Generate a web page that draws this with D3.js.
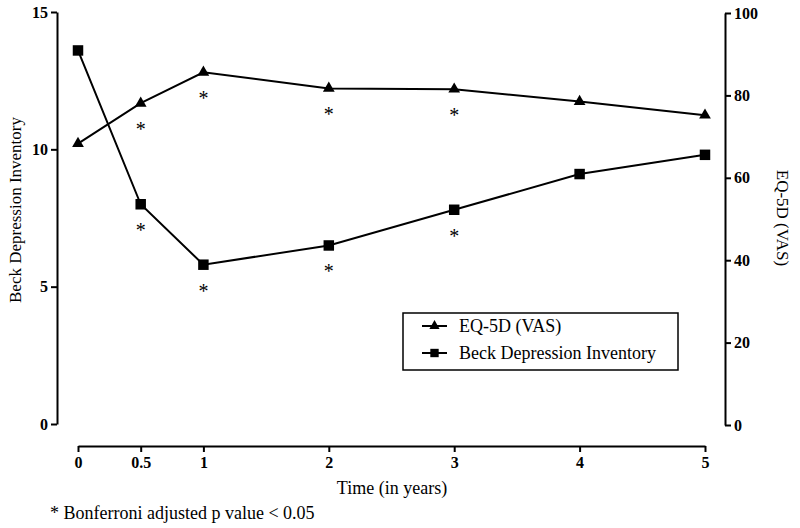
<!DOCTYPE html>
<html><head><meta charset="utf-8">
<script src="https://cdn.jsdelivr.net/npm/d3@7"></script>
<style>body{margin:0;background:#fff}svg{display:block}svg text{font-family:"Liberation Serif","Times New Roman",Times,serif}</style>
</head><body>
<svg id="c" width="800" height="528"></svg>
<script>
const times = [0, 0.5, 1, 2, 3, 4, 5];
const timeLabels = ["0", "0.5", "1", "2", "3", "4", "5"];
const beck = [13.6, 8.0, 5.8, 6.5, 7.8, 9.1, 9.8];
const eq5d = [68.3, 78.1, 85.6, 81.7, 81.5, 78.5, 75.2];
const beckSig = [false, true, true, true, true, false, false];
const eqSig = [false, true, true, true, true, false, false];
const leftTicks = [0, 5, 10, 15];
const rightTicks = [0, 20, 40, 60, 80, 100];

const svg = d3.select("#c");
const x = d3.scaleLinear().domain([0, 5]).range([78, 705]);
const yL = d3.scaleLinear().domain([0, 15]).range([424, 12]);
const yR = d3.scaleLinear().domain([0, 100]).range([425, 13]);

function styleAxis(g) {
  g.attr("font-family", null).attr("font-size", null);
  g.select(".domain").attr("stroke", "#000").attr("stroke-width", 2);
  g.selectAll(".tick line").attr("stroke", "#000").attr("stroke-width", 2);
  g.selectAll(".tick text").style("font-weight", "bold")
    .style("font-size", "16px").attr("fill", "#000");
}
svg.append("g").attr("transform", "translate(57,0)")
  .call(d3.axisLeft(yL).tickValues(leftTicks).tickSize(6).tickSizeOuter(0).tickPadding(3))
  .call(styleAxis);
svg.append("g").attr("transform", "translate(725,0)")
  .call(d3.axisRight(yR).tickValues(rightTicks).tickSize(6).tickSizeOuter(0).tickPadding(3))
  .call(styleAxis);
svg.append("g").attr("transform", "translate(0,446)")
  .call(d3.axisBottom(x).tickValues(times).tickFormat((d, i) => timeLabels[i]).tickSize(6).tickSizeOuter(0).tickPadding(5))
  .call(styleAxis);

const eqData = times.map((t, i) => ({t, v: eq5d[i], s: eqSig[i]}));
const bkData = times.map((t, i) => ({t, v: beck[i], s: beckSig[i]}));

const lineEq = d3.line().x(d => x(d.t)).y(d => yR(d.v));
const lineBk = d3.line().x(d => x(d.t)).y(d => yL(d.v));
svg.append("path").datum(eqData).attr("d", lineEq).attr("fill", "none").attr("stroke", "#000").attr("stroke-width", 2);
svg.append("path").datum(bkData).attr("d", lineBk).attr("fill", "none").attr("stroke", "#000").attr("stroke-width", 2);

const tri = d3.symbol().type(d3.symbolTriangle).size(60);
const sq = d3.symbol().type(d3.symbolSquare).size(110);
svg.selectAll(".tri").data(eqData).enter().append("path")
  .attr("d", tri).attr("transform", d => `translate(${x(d.t)},${yR(d.v)})`).attr("fill", "#000");
svg.selectAll(".sq").data(bkData).enter().append("path")
  .attr("d", sq).attr("transform", d => `translate(${x(d.t)},${yL(d.v)})`).attr("fill", "#000");

svg.selectAll(".eqs").data(eqData.filter(d => d.s)).enter().append("text")
  .attr("x", d => x(d.t)).attr("y", d => yR(d.v) + 33).attr("text-anchor", "middle")
  .style("font-size", "20px").text("*");
svg.selectAll(".bks").data(bkData.filter(d => d.s)).enter().append("text")
  .attr("x", d => x(d.t)).attr("y", d => yL(d.v) + 33).attr("text-anchor", "middle")
  .style("font-size", "20px").text("*");

// Axis titles
svg.append("text").attr("transform", "translate(21,210) rotate(-90)").attr("text-anchor", "middle")
  .style("font-size", "17px").text("Beck  Depression Inventory");
svg.append("text").attr("transform", "translate(777,218) rotate(90)").attr("text-anchor", "middle")
  .style("font-size", "17px").text("EQ-5D (VAS)");
svg.append("text").attr("x", 392).attr("y", 494).attr("text-anchor", "middle")
  .style("font-size", "18px").text("Time (in years)");
svg.append("text").attr("x", 50).attr("y", 519)
  .style("font-size", "18px").text("* Bonferroni adjusted p value < 0.05");

// Legend
const lg = svg.append("g");
lg.append("rect").attr("x", 403).attr("y", 313).attr("width", 275).attr("height", 57)
  .attr("fill", "#fff").attr("stroke", "#000").attr("stroke-width", 1.5);
const legendItems = [{name: "EQ-5D (VAS)", type: d3.symbolTriangle, size: 45, y: 326},
                     {name: "Beck Depression Inventory", type: d3.symbolSquare, size: 70, y: 353}];
legendItems.forEach(it => {
  lg.append("line").attr("x1", 422).attr("x2", 447).attr("y1", it.y).attr("y2", it.y)
    .attr("stroke", "#000").attr("stroke-width", 2);
  lg.append("path").attr("d", d3.symbol().type(it.type).size(it.size))
    .attr("transform", `translate(434.5,${it.y})`).attr("fill", "#000");
  lg.append("text").attr("x", 459).attr("y", it.y + 6).style("font-size", "18px").text(it.name);
});
</script>
</body></html>
